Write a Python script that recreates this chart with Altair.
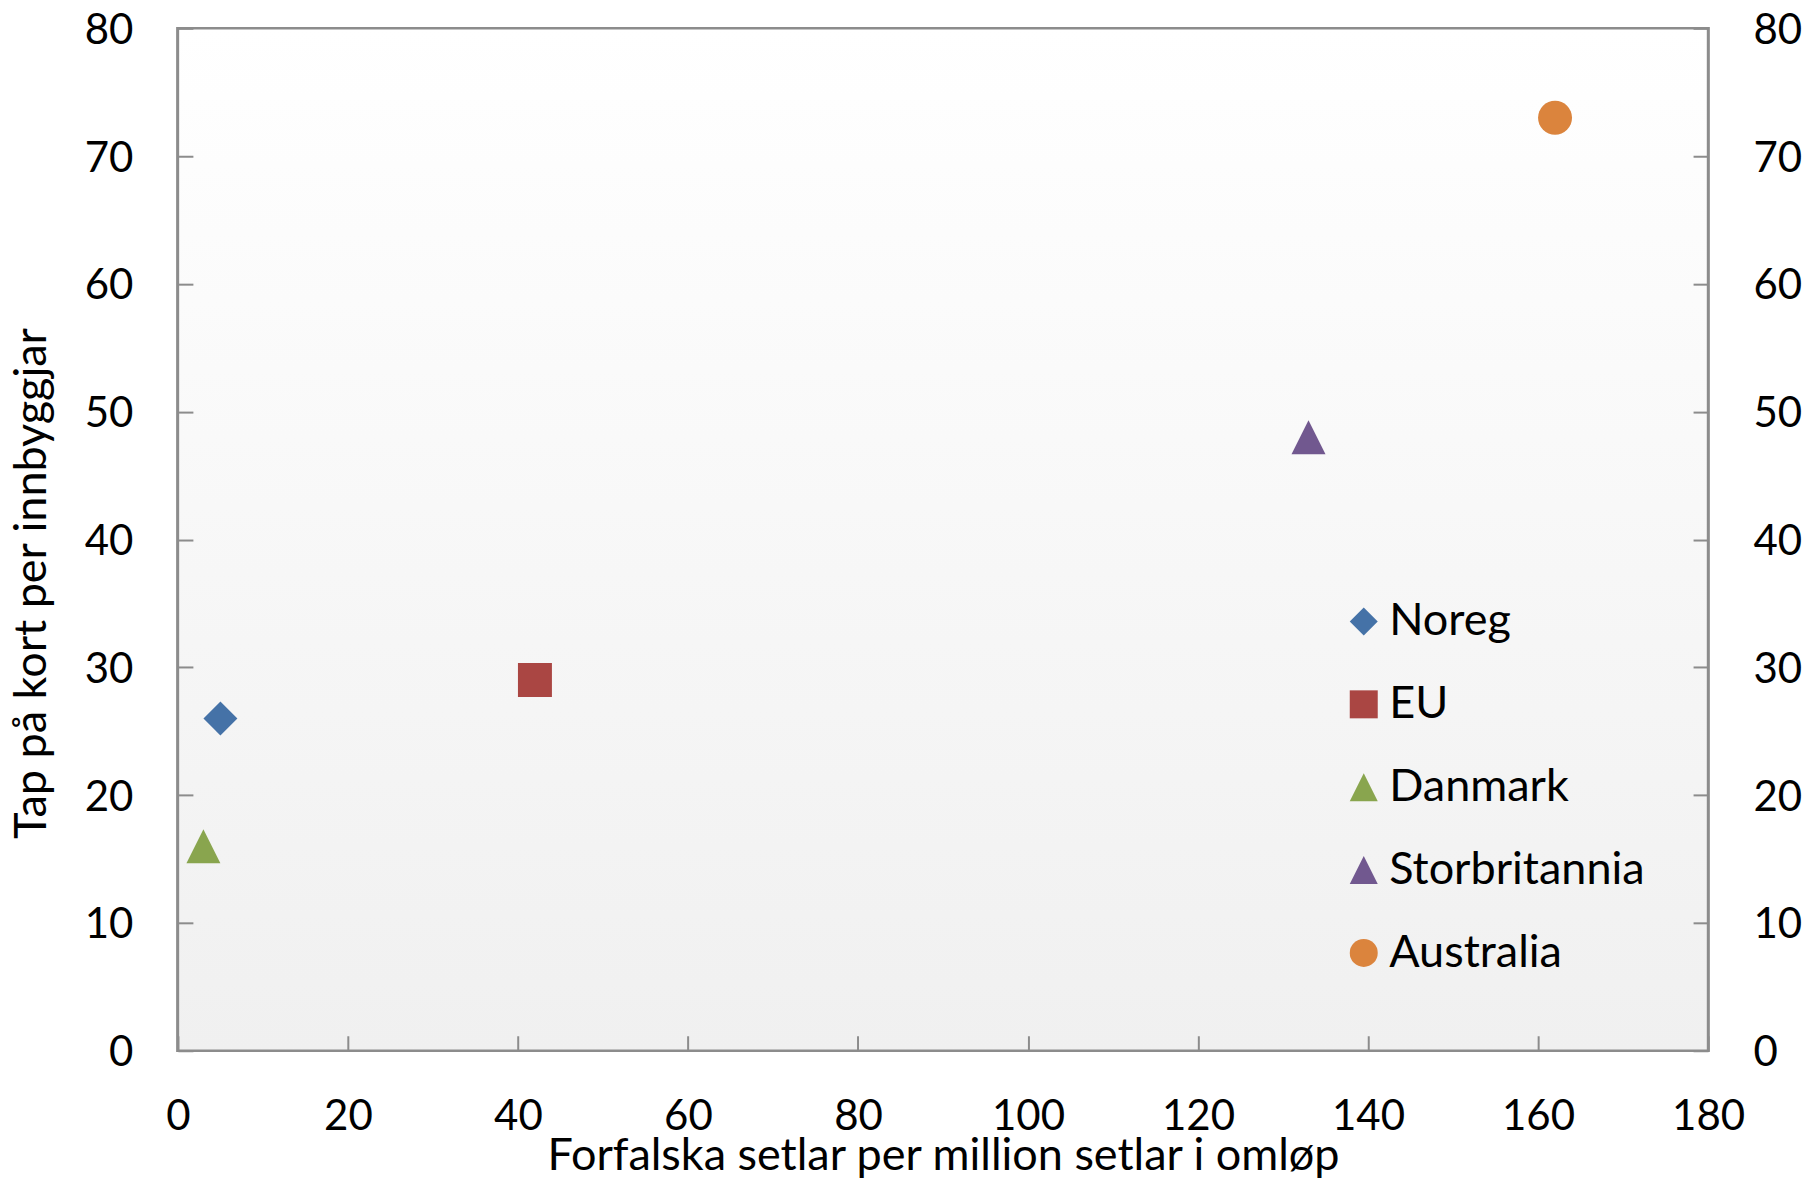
import altair as alt
import pandas as pd

countries = ["Noreg", "EU", "Danmark", "Storbritannia", "Australia"]
forfalska = [5, 42, 3, 133, 162]
tap = [26, 29, 16, 48, 73]
colors = ["#4572A7", "#AA4643", "#89A54E", "#71588F", "#DB843D"]
shapes = ["M0,-1L1,0L0,1L-1,0Z", "square", "M0,-1L1,1L-1,1Z", "M0,-1L1,1L-1,1Z", "circle"]
x_ticks = list(range(0, 181, 20))
y_ticks = list(range(0, 81, 10))

df = pd.DataFrame({"land": countries, "x": forfalska, "y": tap})

W, H = 1531, 1023
FONT = "Lato"
FS = 42
TFS = 45
GRAY = "#8c8c8c"

xscale = alt.Scale(domain=[0, 180], nice=False, zero=True)
yscale = alt.Scale(domain=[0, 80], nice=False, zero=True)

bg = alt.Chart(df).mark_rect(
    fill=alt.Gradient(
        gradient="linear",
        stops=[alt.GradientStop(color="#ffffff", offset=0),
               alt.GradientStop(color="#f0f0f0", offset=1)],
        x1=0, x2=0, y1=0, y2=1,
    ),
    stroke=GRAY,
    strokeWidth=2.5,
).encode(x=alt.value(0), x2=alt.value(W), y=alt.value(0), y2=alt.value(H))

xaxis = alt.Axis(
    values=x_ticks, tickSize=15, offset=-15, domain=False, grid=False,
    tickColor=GRAY, tickWidth=2, labelPadding=46, labelFont=FONT,
    labelFontSize=FS, labelColor="black", labelFlush=False, labelOverlap=False,
    title="Forfalska setlar per million setlar i omløp",
    titleFont=FONT, titleFontSize=TFS, titleFontWeight="normal", titleColor="black",
    titleBaseline="alphabetic", titleY=134, zindex=1,
)
yaxis_left = alt.Axis(
    values=y_ticks, tickSize=15, offset=-15, domain=False, grid=False,
    tickColor=GRAY, tickWidth=2, labelPadding=45, labelFont=FONT,
    labelFontSize=FS, labelColor="black", labelFlush=False, labelOverlap=False,
    labelOffset=2,
    title="Tap på kort per innbyggjar",
    titleFont=FONT, titleFontSize=TFS, titleFontWeight="normal", titleColor="black",
    titleBaseline="alphabetic", titleAngle=270, titleAlign="center",
    titleX=-147, titleY=555, zindex=1,
)
yaxis_right = alt.Axis(
    values=y_ticks, tickSize=15, offset=-15, domain=False, grid=False,
    orient="right",
    tickColor=GRAY, tickWidth=2, labelPadding=45, labelFont=FONT,
    labelFontSize=FS, labelColor="black", labelFlush=False, labelOverlap=False,
    labelOffset=2,
    title=None, zindex=1,
)

points = alt.Chart(df).mark_point(filled=True, size=1156, opacity=1, strokeWidth=0).encode(
    x=alt.X("x:Q", scale=xscale, axis=xaxis),
    y=alt.Y("y:Q", scale=yscale, axis=yaxis_left),
    color=alt.Color("land:N", scale=alt.Scale(domain=countries, range=colors),
                    legend=alt.Legend(orient="none", legendX=1164, legendY=571, title=None,
                                      labelFont=FONT, labelFontSize=TFS, labelColor="black",
                                      symbolSize=784, rowPadding=36.9, labelOffset=3,
                                      padding=0, labelLimit=500, symbolStrokeWidth=0)),
    shape=alt.Shape("land:N", scale=alt.Scale(domain=countries, range=shapes), legend=None),
)

right = alt.Chart(df).mark_point(opacity=0).encode(
    x=alt.X("x:Q", scale=xscale),
    y=alt.Y("y:Q", scale=yscale, axis=yaxis_right),
)

chart = alt.layer(bg, points, right).resolve_scale(y="shared").resolve_axis(y="independent").properties(
    width=W, height=H,
    autosize=alt.AutoSizeParams(type="none"),
    padding={"left": 170, "top": 20, "right": 100, "bottom": 129},
).configure_view(stroke=None).configure_legend(symbolSize=784)

chart.save("out.html", embed_options={"renderer": "svg", "actions": False})
